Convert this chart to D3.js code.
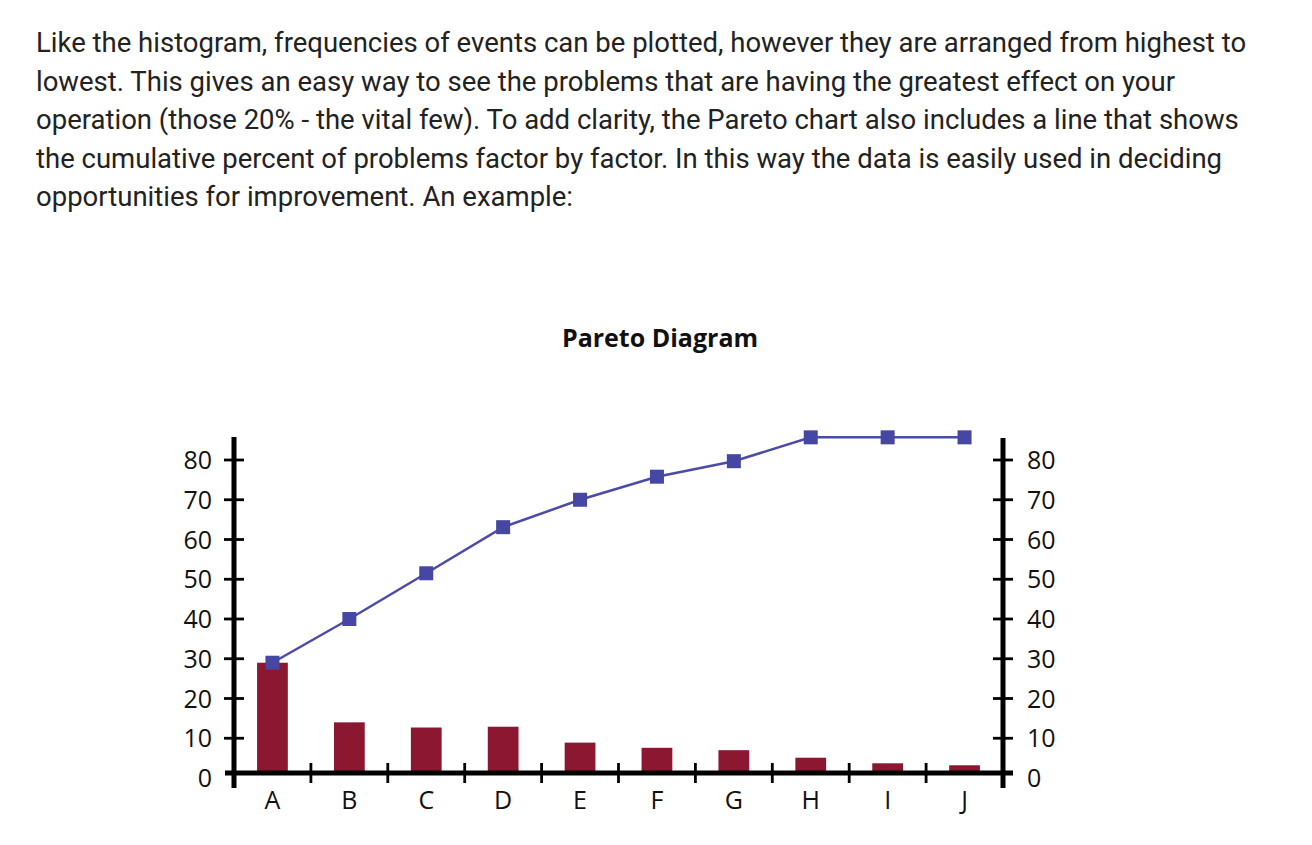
<!DOCTYPE html>
<html>
<head>
<meta charset="utf-8">
<script src="https://cdn.jsdelivr.net/npm/d3@7"></script>
<style>
  body { margin: 0; background: #fff; }
</style>
</head>
<body>
<div id="chart"></div>
<script>
const introLines = [
    "Like the histogram, frequencies of events can be plotted, however they are arranged from highest to",
    "lowest. This gives an easy way to see the problems that are having the greatest effect on your",
    "operation (those 20% - the vital few). To add clarity, the Pareto chart also includes a line that shows",
    "the cumulative percent of problems factor by factor. In this way the data is easily used in deciding",
    "opportunities for improvement. An example:"
];
const categories = ["A", "B", "C", "D", "E", "F", "G", "H", "I", "J"];
const frequency = [29, 14, 12.7, 12.9, 8.9, 7.6, 7, 5.1, 3.7, 3.2];
const cumulative = [29, 40, 51.5, 63.1, 70, 75.8, 79.7, 85.7, 85.7, 85.7];
const yTicks = [0, 10, 20, 30, 40, 50, 60, 70, 80];

const drawChart = () => {
    const width = 1312, height = 845;

    const svg = d3.select("#chart").append("svg")
        .attr("width", width)
        .attr("height", height);

    // paragraph above the chart
    svg.append("g")
        .selectAll("text")
        .data(introLines)
        .enter()
        .append("text")
        .attr("x", 36)
        .attr("y", (d, i) => 52 + i * 38.6)
        .style("font-family", "Roboto, sans-serif")
        .style("font-size", "27.5px")
        .style("fill", "#222")
        .text(d => d);

    svg.append("text")
        .attr("x", 660)
        .attr("y", 347)
        .attr("text-anchor", "middle")
        .style("font-family", "'Open Sans', sans-serif")
        .style("font-weight", "bold")
        .style("font-size", "25px")
        .style("fill", "#111")
        .text("Pareto Diagram");

    const x = d3.scaleBand()
        .domain(categories)
        .range([234, 1003]);

    const y = d3.scaleLinear()
        .domain([0, 80])
        .range([778, 460]);

    // the drawn baseline sits a little above the "0" label
    const base = y(0) - 5;
    const left = x.range()[0], right = x.range()[1];

    const fontAxis = "'Open Sans', sans-serif";

    // bars
    const barW = x.bandwidth() * 0.4;
    svg.append("g")
        .selectAll("rect")
        .data(frequency)
        .enter()
        .append("rect")
        .attr("x", (d, i) => x(categories[i]) + x.bandwidth() / 2 - barW / 2)
        .attr("y", d => y(d))
        .attr("width", barW)
        .attr("height", d => base - y(d))
        .style("fill", "#8b1830");

    // axes
    const ax = svg.append("g").style("stroke", "#000");
    ax.append("line")
        .attr("x1", left).attr("x2", left)
        .attr("y1", 437).attr("y2", 788)
        .style("stroke-width", 5);
    ax.append("line")
        .attr("x1", right).attr("x2", right)
        .attr("y1", 438).attr("y2", 788)
        .style("stroke-width", 5);
    ax.append("line")
        .attr("x1", left - 9).attr("x2", right + 10)
        .attr("y1", base).attr("y2", base)
        .style("stroke-width", 5);

    // y ticks on both sides
    [left, right].forEach(px => {
        ax.selectAll(null)
            .data(yTicks.filter(d => d > 0))
            .enter()
            .append("line")
            .attr("x1", px - 10).attr("x2", px + 10)
            .attr("y1", d => y(d)).attr("y2", d => y(d))
            .style("stroke-width", 2.8);
    });

    // x ticks between categories
    ax.selectAll(null)
        .data(categories.slice(1))
        .enter()
        .append("line")
        .attr("x1", d => x(d)).attr("x2", d => x(d))
        .attr("y1", base - 10).attr("y2", base + 10)
        .style("stroke-width", 2.8);

    // tick labels
    svg.append("g")
        .selectAll("text")
        .data(yTicks)
        .enter()
        .append("text")
        .attr("x", 212)
        .attr("y", d => y(d))
        .attr("dy", "0.36em")
        .attr("text-anchor", "end")
        .style("font-family", fontAxis)
        .style("font-size", "25px")
        .style("fill", "#111")
        .text(d => d);

    svg.append("g")
        .selectAll("text")
        .data(yTicks)
        .enter()
        .append("text")
        .attr("x", 1027)
        .attr("y", d => y(d))
        .attr("dy", "0.36em")
        .attr("text-anchor", "start")
        .style("font-family", fontAxis)
        .style("font-size", "25px")
        .style("fill", "#111")
        .text(d => d);

    svg.append("g")
        .selectAll("text")
        .data(categories)
        .enter()
        .append("text")
        .attr("x", d => x(d) + x.bandwidth() / 2)
        .attr("y", 809)
        .attr("text-anchor", "middle")
        .style("font-family", fontAxis)
        .style("font-size", "25px")
        .style("fill", "#111")
        .text(d => d);

    // cumulative line
    const line = d3.line()
        .x((d, i) => x(categories[i]) + x.bandwidth() / 2)
        .y(d => y(d));

    svg.append("path")
        .datum(cumulative)
        .attr("d", line)
        .style("fill", "none")
        .style("stroke", "#4b4ba8")
        .style("stroke-width", 2.5);

    const sq = 14;
    svg.append("g")
        .selectAll("rect")
        .data(cumulative)
        .enter()
        .append("rect")
        .attr("x", (d, i) => x(categories[i]) + x.bandwidth() / 2 - sq / 2)
        .attr("y", d => y(d) - sq / 2)
        .attr("width", sq)
        .attr("height", sq)
        .style("fill", "#4646a3");
};

document.addEventListener("DOMContentLoaded", drawChart);
</script>
</body>
</html>
